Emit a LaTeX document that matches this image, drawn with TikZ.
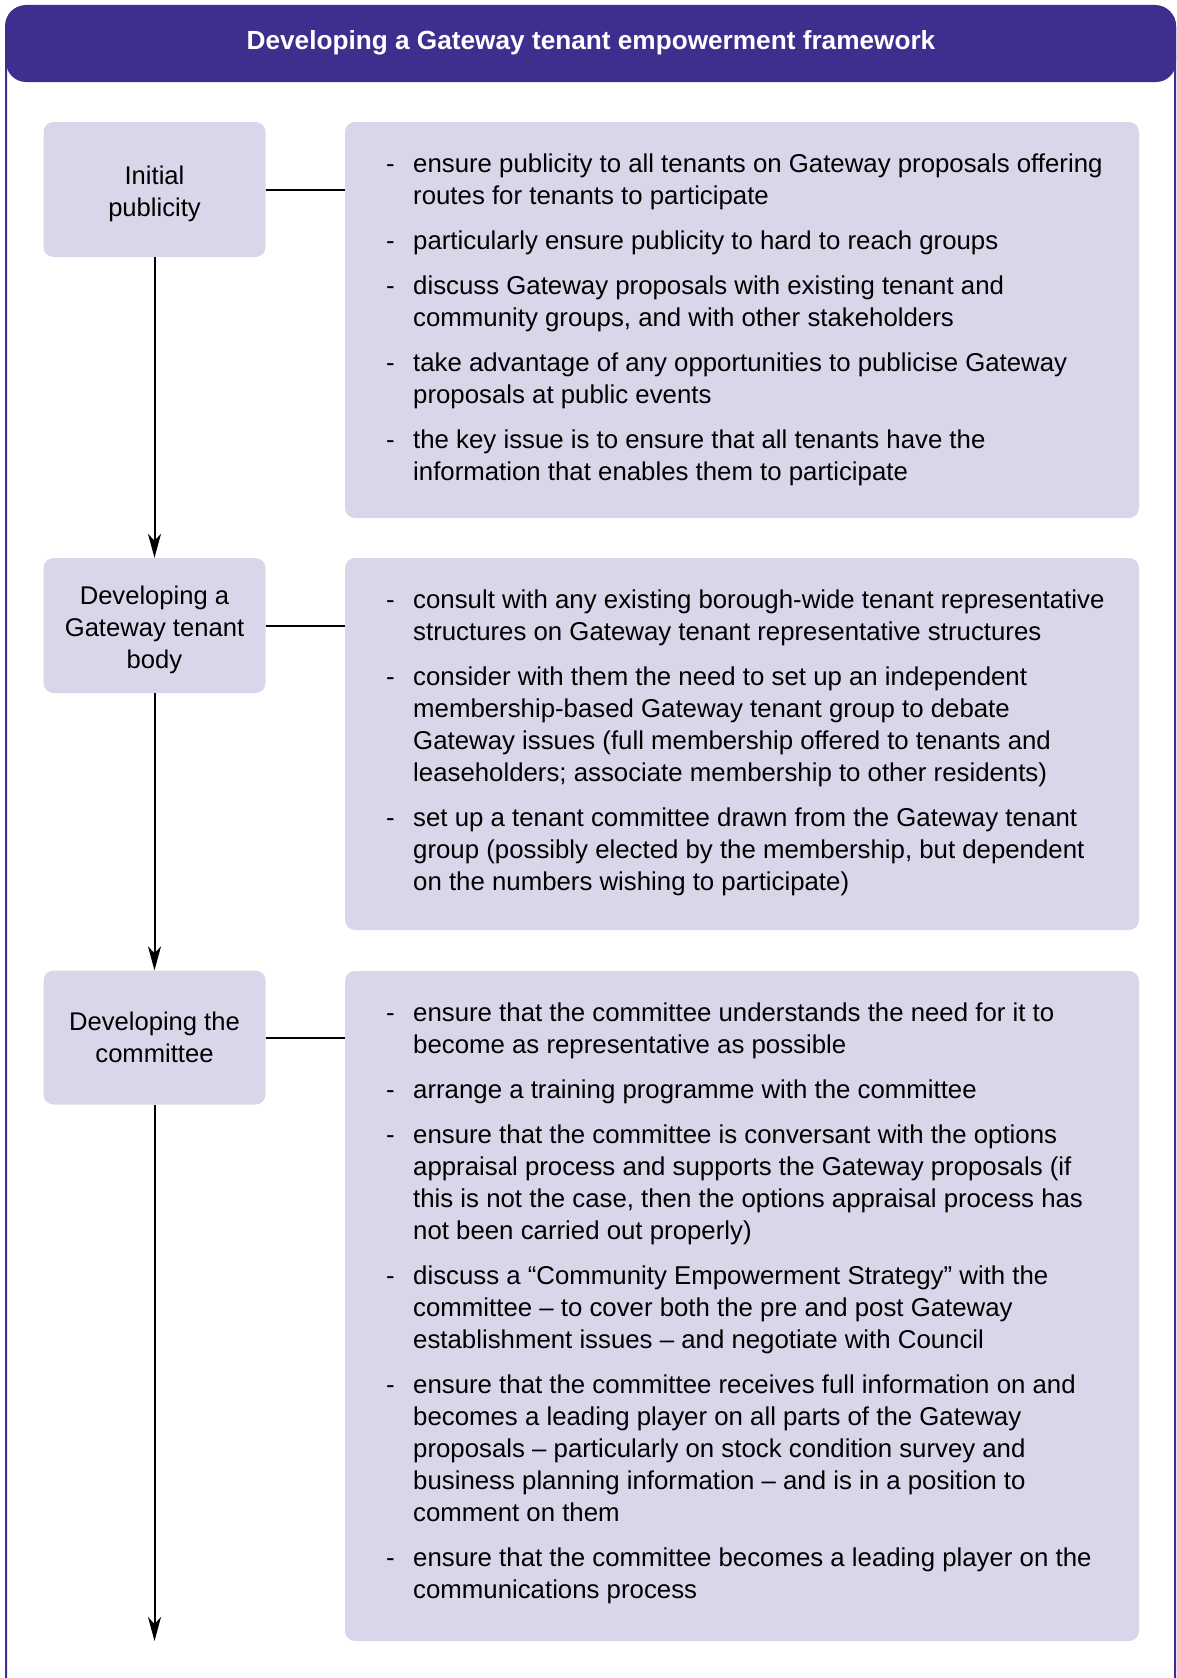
\documentclass[tikz,border=0pt]{standalone}
\usepackage{fontspec}
\setmainfont{Liberation Sans}
\usetikzlibrary{arrows.meta}
\definecolor{hdr}{RGB}{64,46,143}
\definecolor{boxfill}{RGB}{217,214,234}
\tikzset{
  panel/.style={fill=boxfill, rounded corners=10pt, inner sep=0pt},
  stagebox/.style={panel, minimum width=222pt},
  stagelabel/.style={inner sep=0pt, align=center,
    font=\fontsize{25.6}{32}\selectfont},
  listbox/.style={panel, minimum width=794pt},
  listtext/.style={anchor=north west, inner sep=0pt,
    font=\fontsize{25.8}{32}\selectfont},
  link/.style={line width=2pt},
  flow/.style={line width=2pt, -{Stealth[length=24pt,width=13pt,inset=7pt]}},
}
\newcommand{\gap}{\\[13pt]}
\begin{document}
\begin{tikzpicture}[x=1pt,y=-1pt]
\useasboundingbox (0,0) rectangle (1177,1678);
\clip (0,0) rectangle (1177,1678);
% outer frame and title bar
\draw[hdr, line width=2pt, rounded corners=20pt] (6,6) rectangle (1175,1710);
\fill[hdr, rounded corners=20pt] (6,82) -- (6,6) -- (1176,6) -- (1176,82) -- cycle;
\node[anchor=base, text=white, font=\fontsize{26.2}{30}\selectfont\bfseries] (title) at (591,50)
  {Developing a Gateway tenant empowerment framework};

% stage boxes
\node[stagebox, minimum height=135pt] (s1) at (154.5,189.5) {};
\node[stagebox, minimum height=135pt] (s2) at (154.5,625.5) {};
\node[stagebox, minimum height=134pt] (s3) at (154.5,1037.5) {};
\node[stagelabel] (l1) at ([yshift=-4pt]s1.center) {Initial\\publicity};
\node[stagelabel] (l2) at ([yshift=-4pt]s2.center) {Developing a\\Gateway tenant\\body};
\node[stagelabel] (l3) at (s3.center) {Developing the\\committee};

% detail panels
\node[listbox, minimum height=396pt] (d1) at (742,320) {};
\node[listbox, minimum height=372pt] (d2) at (742,744) {};
\node[listbox, minimum height=670pt] (d3) at (742,1306) {};

\node[listtext] (t1) at (386,149.6) {\begin{tabular}{@{}p{27pt}@{}l@{}}
- & ensure publicity to all tenants on Gateway proposals offering\\
  & routes for tenants to participate\gap
- & particularly ensure publicity to hard to reach groups\gap
- & discuss Gateway proposals with existing tenant and\\
  & community groups, and with other stakeholders\gap
- & take advantage of any opportunities to publicise Gateway\\
  & proposals at public events\gap
- & the key issue is to ensure that all tenants have the\\
  & information that enables them to participate
\end{tabular}};

\node[listtext] (t2) at (386,585.6) {\begin{tabular}{@{}p{27pt}@{}l@{}}
- & consult with any existing borough-wide tenant representative\\
  & structures on Gateway tenant representative structures\gap
- & consider with them the need to set up an independent\\
  & membership-based Gateway tenant group to debate\\
  & Gateway issues (full membership offered to tenants and\\
  & leaseholders; associate membership to other residents)\gap
- & set up a tenant committee drawn from the Gateway tenant\\
  & group (possibly elected by the membership, but dependent\\
  & on the numbers wishing to participate)
\end{tabular}};

\node[listtext] (t3) at (386,998.6) {\begin{tabular}{@{}p{27pt}@{}l@{}}
- & ensure that the committee understands the need for it to\\
  & become as representative as possible\gap
- & arrange a training programme with the committee\gap
- & ensure that the committee is conversant with the options\\
  & appraisal process and supports the Gateway proposals (if\\
  & this is not the case, then the options appraisal process has\\
  & not been carried out properly)\gap
- & discuss a “Community Empowerment Strategy” with the\\
  & committee – to cover both the pre and post Gateway\\
  & establishment issues – and negotiate with Council\gap
- & ensure that the committee receives full information on and\\
  & becomes a leading player on all parts of the Gateway\\
  & proposals – particularly on stock condition survey and\\
  & business planning information – and is in a position to\\
  & comment on them\gap
- & ensure that the committee becomes a leading player on the\\
  & communications process
\end{tabular}};

% links between stages and their panels
\draw[link] (s1.east) -- (d1.west |- s1.east);
\draw[link] (s2.east) -- (d2.west |- s2.east);
\draw[link] (s3.east) -- (d3.west |- s3.east);

% flow down the stages
\coordinate (end) at (154.5,1641);
\draw[flow] (s1.south) -- (s2.north);
\draw[flow] (s2.south) -- (s3.north);
\draw[flow] (s3.south) -- (end);
\end{tikzpicture}
\end{document}
